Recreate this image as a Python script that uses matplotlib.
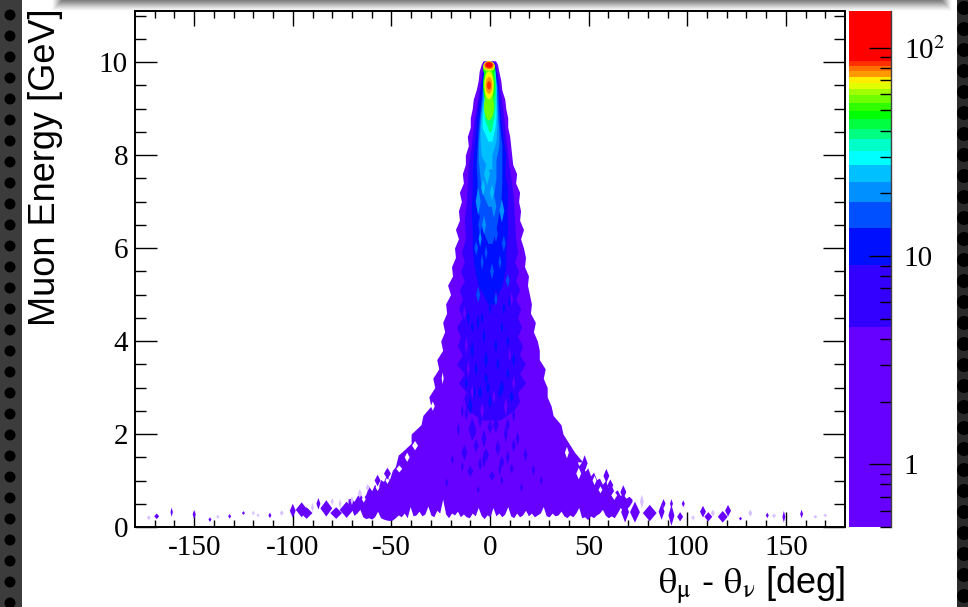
import matplotlib
matplotlib.use('Agg')
import matplotlib.pyplot as plt
from matplotlib.patches import Ellipse, Rectangle, Circle

plt.rcParams['axes.unicode_minus'] = False
plt.rcParams['mathtext.fontset'] = 'stix'

# colour scale: linear contour levels on a log axis
level_edges = [0.5, 4.56, 9.03, 13.6, 18.2, 22.7, 27.4, 32.0, 36.5, 40.8, 45.5,
               49.9, 54.4, 59.3, 63.5, 68.0, 72.7, 77.7, 82.0, 86.6, 150.0]
level_colors = ['#6600ff', '#3300ff', '#0010ff', '#0050ff', '#0090ff', '#00c0ff', '#00ffff',
                '#00ffc8', '#00ff80', '#00ff40', '#00ff00', '#30ff00', '#70ff00', '#a0ff00',
                '#e0ff00', '#ffee00', '#ff9900', '#ff7000', '#ff3000', '#ff0000']

# outer contour, energy rows above 1.4 GeV
body_e = [1.4, 1.6, 1.8, 2.0, 2.2, 2.4, 2.6, 2.8, 3.0, 3.2, 3.4, 3.6, 3.8, 4.0, 4.2, 4.4, 4.6, 4.8, 5.0, 5.2, 5.4, 5.6,
          5.8, 6.0, 6.2, 6.4, 6.6, 6.8, 7.0, 7.2, 7.4, 7.6, 7.8, 8.0, 8.2, 8.4, 8.6, 8.8, 9.0, 9.2, 9.4, 9.6, 9.8, 9.95, 10.03]
body_left = [-47, -45, -40, -40, -35, -34, -30, -31, -28, -29, -26, -27, -24, -25, -23, -24, -22, -22.5, -20, -21.5, -19, -19.5,
             -17.5, -18, -16, -17.5, -15.5, -16, -14.5, -15.5, -13.5, -14, -12.5, -12.5, -11, -11.5, -10, -10, -9, -8.5, -7, -6, -5.5, -4.5, -3.5]
body_right = [47, 43, 40, 37, 36, 32, 31, 29, 29, 27, 28, 25, 25, 24, 22, 23, 20.5, 21, 20, 19, 19.5, 17.5,
              18, 17, 15.5, 17, 15, 15.5, 14.5, 15, 13, 13.5, 11.5, 11, 10.5, 10, 9, 9, 8, 7.5, 6, 5.5, 4.5, 3.8, 2.8]

# lower part of the outer contour, theta columns every 1.5 deg
low_theta = [-72 + 1.5 * i for i in range(97)]
low_lower = [.5, .42, .25, .3, .38, .22, .18, .2, .17, .22, .34, .2, .17, .15, .14, .15, .2, .26, .22, .3, .2, .44, .24, .26, .34,
             .24, .28, .45, .26, .22, .36, .3, .6, .28, .2, .3, .26, .34, .22, .28, .22, .2, .3, .24, .42, .25, .18, .26, .22,
             .42, .24, .3, .22, .28, .44, .24, .2, .3, .22, .26, .36, .24, .3, .22, .26, .3, .44, .24, .22, .3, .24, .26, .34,
             .24, .2, .26, .22, .3, .42, .2, .22, .16, .24, .2, .26, .3, .38, .25, .2, .24, .2, .3, .42, .34, .38, .45, .55]
low_upper = [.6, .62, .55, .66, .72, .62, .7, .88, .78, .92, .8, 1.02, .98, 1.12, 1.02, 1.22, 1.3, 1.55] + [1.6] * 59 + \
            [1.5, 1.32, 1.4, 1.2, 1.28, 1.1, 1.18, 1.02, 1.05, .92, 1.0, .85, .9, .75, .8, .68, .7, .62, .66, .6]

# inner contours: energy rows with left and right edge
core_e = [2.3, 2.5, 2.7, 2.9, 3.1, 3.3, 3.5, 3.7, 3.9, 4.1, 4.3, 4.5, 4.7, 4.9, 5.1, 5.3, 5.5, 5.7, 5.9, 6.2, 6.6, 7.0, 7.4, 7.8, 8.2, 8.6, 9.0, 9.4, 9.8, 10.0]
core_left = [-4, -11, -14, -12, -16, -13, -17, -14, -16.5, -15, -17, -14, -16, -14, -15.5, -13, -15, -13, -14.5, -12.5, -13, -12, -11.5, -11, -9.5, -8.5, -7, -5.5, -4, -3]
core_right = [5, 12, 15, 14, 18, 15, 18, 15, 16.5, 14, 16, 14, 15.5, 13, 15, 13, 14.5, 12.5, 14, 13, 12.5, 12, 11, 9.5, 8.5, 7.5, 6.5, 5, 3.5, 2.5]
blue_e = [4.8, 5.2, 5.6, 6.0, 6.4, 6.8, 7.2, 7.6, 8.0, 8.4, 8.8, 9.2, 9.6, 9.9]
blue_left = [-1, -6, -8, -9, -9, -9.5, -9, -9, -8.5, -7.5, -7, -5.5, -4.5, -3]
blue_right = [2, 6, 8, 8, 9, 8.5, 9, 7.5, 8, 6.5, 5.5, 4.5, 4, 2.5]
azure_e = [6.1, 6.4, 7.0, 7.4, 7.8, 8.2, 8.6, 9.0, 9.4, 9.8]
azure_left = [-1, -4, -7, -6.5, -7, -6.5, -6, -5, -4, -3]
azure_right = [1, 3, 5.5, 6, 6, 6, 5, 4.5, 4, 2.5]
sky_e = [6.9, 7.2, 7.5, 7.9, 8.2, 8.5, 8.8, 9.2, 9.6, 9.9]
sky_left = [-1, -4, -5, -6, -6, -5.5, -5, -4, -3.5, -3]
sky_right = [1, 2, 3, 3, 4.5, 4.5, 4, 3.5, 3, 2.2]
light_e = [7.7, 8.0, 8.3, 8.6, 8.9, 9.2, 9.5, 9.85]
light_left = [-1, -4.5, -5, -5, -4.5, -3.5, -3, -2.8]
light_right = [1, 1, 3, 3.5, 3.5, 3.2, 3, 2.2]
cyan_e = [8.3, 8.6, 8.8, 9.1, 9.5, 9.9]
cyan_left = [-1, -4, -4, -3.2, -3, -2.8]
cyan_right = [1, 2.5, 3, 3, 3, 2.2]
mint_e = [8.5, 8.8, 9.0, 9.3, 9.6, 9.95]
mint_left = [-0.5, -3, -3, -2.8, -2.8, -2.8]
mint_right = [0.5, 2, 2.5, 2.8, 2.8, 2.2]

# local patches of counts: centre, full width, full height, level
patch_theta = [-10, -5, 1, 6, 11, -13, -7, -2, 4, 9, -9, -3, 3, 8, -16, 14, -19, 22, 26, 16, -22, 18, 12, -14, 6, -6,
               -12, -5, 3, 9, -8, 0, 12, -14, -3, 5,
               -10, -5, 0, 6, 11, -12, -7, -2, 4, 9, -9, -3, 3, 8, -11, -6, 0, 6, 12, -8, -2, 5, 10,
               -4, 2, 7, -9, 0, 4, 9, -1, -6, 10,
               -6, 3, 9, -4, 1, -7, 7, -5, 3, -2, 5,
               -6, -3, 6, 2, -5,
               -1.5, -3.5, 1,
               -0.5, -0.5, -0.5, -0.5, -0.5, -0.5, -0.5, -0.5, -0.5, -0.5, -0.5, -0.5]
patch_e = [1.2, 1.35, 1.1, 1.4, 1.25, 1.6, 1.75, 1.55, 1.7, 1.5, 2.1, 1.9, 2.2, 2.0, 2.1, 1.9, 1.45, 1.22, 1.0, .85, .95, 1.55, 1.75, 1.3, 1.0, .8,
           2.45, 2.3, 2.35, 2.2, 2.05, 2.15, 2.4, 2.5, 1.45, 1.25,
           2.6, 2.9, 2.7, 3.0, 2.8, 3.1, 3.4, 3.2, 3.5, 3.3, 3.8, 4.1, 3.9, 4.2, 4.5, 4.4, 4.7, 4.3, 3.6, 2.9, 3.6, 2.9, 3.7,
           4.5, 4.9, 4.7, 4.3, 5.1, 5.4, 4.0, 3.0, 5.0, 4.85,
           5.0, 4.9, 5.3, 5.7, 5.5, 6.0, 6.1, 6.5, 6.3, 5.9, 5.7,
           7.0, 6.5, 6.8, 6.9, 6.2,
           7.6, 7.3, 7.2,
           9.05, 9.5, 9.5, 9.5, 9.5, 9.5, 9.5, 9.85, 9.9, 9.92, 9.93, 9.94]
patch_w = [3, 2, 3, 2.5, 2, 3, 2.5, 3, 2.5, 2, 4, 2.5, 3, 2, 1.5, 2, 1.5, 1.5, 1.5, 1.5, 1.5, 2, 2, 1.5, 1.5, 1.5,
           2, 2, 2.5, 2, 2, 2.5, 1.5, 1.5, 2, 1.5,
           2, 2, 2, 2, 2, 1.5, 1.5, 2, 1.5, 1.5, 1.5, 1.5, 1.5, 1.5, 1.5, 1.5, 1.5, 1.5, 1.5, 1.5, 2, 1.5, 1.5,
           1.5, 1.5, 1.5, 1.5, 2, 1.5, 1.5, 2, 1.5, 1.5,
           2, 1.5, 2, 1.5, 2, 2, 2, 2, 2, 1.5, 1.5,
           2.5, 2, 2.5, 2.5, 1.5,
           3, 2, 2,
           5, 6, 5.2, 4.6, 4.2, 3.4, 2, 6, 6, 5.6, 4.8, 3.6]
patch_h = [.25, .3, .2, .25, .2, .35, .3, .3, .35, .3, .5, .4, .35, .4, .3, .3, .2, .25, .2, .2, .2, .3, .3, .2, .2, .15,
           .35, .35, .3, .3, .3, .3, .3, .3, .35, .3,
           .4, .3, .3, .35, .25, .25, .3, .25, .3, .25, .4, .35, .3, .25, .3, .35, .3, .25, .3, .25, .4, .3, .3,
           .25, .3, .25, .25, .3, .3, .25, .3, .3, .25,
           .35, .3, .3, .35, .35, .3, .35, .4, .35, .3, .3,
           .6, .4, .5, .5, .35,
           .5, .35, .35,
           .6, .85, .72, .6, .5, .36, .18, .3, .24, .2, .16, .12]
patch_level = [1] * 36 + [2] * 33 + [3] * 11 + [4] * 5 + [5] * 3 + \
              [12, 10, 12, 14, 15, 16, 18, 10, 12, 15, 17, 19]

# low pockets inside the core and the blue contour
hole_theta = [-13, -9, -4, 2, 8, 12, -11, -6, 5, 10, -12, -8, 0, 8, -13, -3, 6, 11, -10, 3, 9, -6, -12, 10, -4, 4]
hole_e = [2.6, 2.9, 2.5, 2.8, 2.6, 3.1, 3.4, 3.15, 3.3, 3.7, 3.9, 4.05, 3.6, 4.15, 4.6, 4.35, 4.55, 4.9, 5.2, 5.0, 5.5, 5.6, 5.7, 6.0, 6.4, 6.6]
hole_w = [1.5, 1.5, 2, 1.5, 2, 1.5, 1.5, 1.5, 1.5, 1.5, 1.5, 1.5, 1.5, 1.5, 1.5, 1.5, 1.5, 1.5, 1.5, 1.5, 1.5, 1.5, 1.5, 1.5, 1.5, 1.5]
hole_h = [.35, .3, .35, .3, .4, .3, .35, .25, .3, .3, .4, .3, .25, .35, .3, .25, .3, .3, .3, .25, .3, .3, .3, .3, .3, .3]
hole_level = [0, 0, 0, 0, 0, 0, 0, 1, 1, 0, 0, 1, 1, 1, 0, 1, 1, 0, 1, 1, 1, 2, 1, 1, 2, 2]

# isolated cells in the tails and along the flanks
tail_theta = [-169, -161.4, -150, -142, -132, -125, -117.6, -111.6, -105.6, -100, -95.5, -93, -87, -83, -78, -72.7, -80, -70, -57, -52, -62,
              68.5, 73.5, 81, 87, 92, 96.4, 98, 88, 92, 108, 110.7, 118, 120.7, 127, 132, 140.6, 149, 158, 170, 48, 59, 61, 67.6,
              -90, -76, -173, -138, -120, -66, 77, 103, 113, 144, 165]
tail_e = [.23, .32, .27, .16, .23, .3, .25, .25, .3, .35, .37, .3, .5, .4, .3, .37, .55, .57, 1.0, 1.15, .85,
          .32, .32, .3, .33, .25, .22, .5, .5, .5, .33, .22, .22, .35, .18, .3, .25, .22, .28, .25, 1.37, 1.1, .9, .75,
          .42, .5, .2, .22, .3, .72, .55, .2, .3, .24, .22]
tail_w = [2.5, 1.2, 1.5, 1.5, 1.5, 1.5, 1.5, 1.5, 2, 3, 6, 6, 2, 6, 6, 7, 1.5, 1.5, 3, 3.5, 2,
          4, 5, 7, 3, 3, 3, 1.5, 2, 1.5, 3, 4, 5, 3, 1.5, 2, 1.5, 1.5, 1.5, 2, 3, 3, 3, 3,
          1.5, 1.5, 2, 1.5, 1.5, 2, 2, 2, 2, 2, 2]
tail_h = [.12, .2, .2, .1, .1, .08, .08, .12, .12, .3, .32, .25, .25, .35, .25, .35, .15, .2, .25, .25, .15,
          .45, .45, .35, .35, .45, .2, .15, .2, .2, .25, .2, .25, .25, .08, .15, .12, .25, .18, .08, .35, .3, .25, .3,
          .2, .2, .1, .1, .1, .2, .3, .1, .15, .1, .08]
tail_pale = [0, 0, 0, 0, 0, 0, 1, 0, 1, 0, 0, 0, 0, 0, 0, 0, 1, 1, 0, 0, 1,
             0, 0, 0, 0, 0, 0, 0, 0, 0, 0, 0, 0, 0, 0, 1, 0, 0, 0, 1, 0, 0, 0, 0,
             1, 1, 1, 1, 1, 1, 1, 1, 1, 1, 1]

# white gaps cut into the flanks
gap_theta = [45, 53, 63, 60, 39, -38, -46, -57, -64, -67, -24, -29, 27, 34, -42, -52, 49, 56]
gap_e = [1.15, 1.0, .68, .95, 1.6, 1.75, 1.25, .85, .6, .85, 3.2, 2.6, 4.4, 2.7, 1.5, 1.0, 1.3, .8]
gap_w = [2.5, 2, 3, 1.5, 2, 3, 3, 2, 2, 1.5, 1, 2, 1, 1.5, 2.5, 2, 2, 2]
gap_h = [.25, .2, .2, .15, .25, .2, .15, .15, .15, .1, .25, .2, .25, .2, .2, .15, .2, .15]

xticks_major = [-150, -100, -50, 0, 50, 100, 150]
yticks_major = [0, 2, 4, 6, 8, 10]
bar_major = [1, 10, 100]
bar_minor = [.5, .6, .7, .8, .9, 2, 3, 4, 5, 6, 7, 8, 9, 20, 30, 40, 50, 60, 70, 80, 90]

W, H = 968, 607


def px_axes(fig, left, top, right, bottom):
    return fig.add_axes([left / W, 1 - bottom / H, (right - left) / W, (bottom - top) / H])


def cell(ax, t, e, w, h, color, z):
    # one contour cell is a spiky diamond, not a round dot
    ax.fill([t - w / 2, t, t + w / 2, t], [e, e + h / 2, e, e - h / 2], color=color, lw=0, zorder=z)


fig = plt.figure(figsize=(W / 100, H / 100), dpi=100, facecolor='white')

# slide decoration behind the plot
bg = fig.add_axes([0, 0, 1, 1], zorder=-1)
bg.set_xlim(0, W)
bg.set_ylim(H, 0)
bg.axis('off')
bg.add_patch(Rectangle((0, 0), 22, H, color='#3c3c3c', lw=0))
bg.add_patch(Rectangle((957, 0), 11, H, color='#2a2a2a', lw=0))
for k in range(-1, 30):
    bg.add_patch(Circle((10, 15 + 21 * k), 5.5, color='black', lw=0))
    bg.add_patch(Circle((964, 8 + 21 * k), 7, color='black', lw=0))
shades = ['#808080', '#8c8c8c', '#989898', '#a6a6a6', '#b4b4b4', '#c2c2c2', '#cfcfcf', '#dcdcdc', '#e8e8e8', '#f2f2f2', '#fafafa']
for i, shade in reversed(list(enumerate(shades))):
    bg.add_patch(Rectangle((62 - i, 0), 880 + 2 * i, i + 1, color=shade, lw=0))

ax = px_axes(fig, 135, 11, 845, 527)
ax.set_xlim(-180, 180)
ax.set_ylim(0, 11.1)

ax.fill_between(low_theta, low_lower, low_upper, color=level_colors[0], lw=0, zorder=2)
ax.fill_betweenx(body_e, body_left, body_right, color=level_colors[0], lw=0, zorder=2)
for t, e, w, h in zip(gap_theta, gap_e, gap_w, gap_h):
    cell(ax, t, e, w, h, 'white', 2.5)
for t, e, w, h, p in zip(tail_theta, tail_e, tail_w, tail_h, tail_pale):
    cell(ax, t, e, w, h, '#d9c2ff' if p else level_colors[0], 3)

contours = [(1, core_e, core_left, core_right), (2, blue_e, blue_left, blue_right),
            (3, azure_e, azure_left, azure_right), (4, sky_e, sky_left, sky_right),
            (5, light_e, light_left, light_right), (6, cyan_e, cyan_left, cyan_right),
            (8, mint_e, mint_left, mint_right)]
for level, e, left, right in contours:
    ax.fill_betweenx(e, left, right, color=level_colors[level], lw=0, zorder=4 + level)
for t, e, w, h, level in zip(patch_theta, patch_e, patch_w, patch_h, patch_level):
    if level <= 6:
        cell(ax, t, e, w, h, level_colors[level], 4 + level + 0.5)
    else:
        ax.add_patch(Ellipse((t, e), w, h, color=level_colors[level], lw=0, zorder=4 + level + 0.5))
for t, e, w, h, level in zip(hole_theta, hole_e, hole_w, hole_h, hole_level):
    cell(ax, t, e, w, h, level_colors[level], 6.8)

ax.set_xticks(xticks_major)
ax.set_xticks(range(-170, 180, 10), minor=True)
ax.set_yticks(yticks_major)
ax.set_yticks([i * 0.5 for i in range(0, 23)], minor=True)
ax.tick_params(which='major', axis='x', direction='in', top=True, length=10.8, width=1, pad=6, labelsize=21)
ax.tick_params(which='minor', axis='x', direction='in', top=True, length=5, width=1)
ax.tick_params(which='major', axis='y', direction='in', right=True, length=15.8, width=1, pad=5, labelsize=21)
ax.tick_params(which='minor', axis='y', direction='in', right=True, length=8, width=1)
for lab in ax.get_xticklabels() + ax.get_yticklabels():
    lab.set_family('Liberation Serif')
for s in ax.spines.values():
    s.set_linewidth(1.4)
    s.set_zorder(30)

fig.text(46 / W, 1 - 326 / H, 'Muon Energy [GeV]', rotation=90, ha='center', va='bottom', fontsize=26, family='Liberation Sans')
fig.text(845 / W, 1 - 594 / H, r'$\mathrm{\theta}_{\mathrm{\mu}}$ - $\mathrm{\theta}_{\mathrm{\nu}}$ [deg]',
         ha='right', va='baseline', fontsize=26, family='Liberation Sans')

# colour bar
cax = px_axes(fig, 849, 11, 891, 527)
cax.set_yscale('log')
cax.set_ylim(level_edges[0], level_edges[-1])
cax.set_xlim(0, 1)
for low, high, col in zip(level_edges[:-1], level_edges[1:], level_colors):
    cax.bar(0.5, high - low, width=1, bottom=low, color=col, lw=0)
for name in ['top', 'bottom', 'left']:
    cax.spines[name].set_visible(False)
cax.spines['right'].set_linewidth(1)
cax.spines['right'].set_color('#404040')
cax.set_xticks([])
cax.yaxis.tick_right()
cax.set_yticks(bar_major)
cax.set_yticklabels(['1', '10', r'10$^{2}$'], family='Liberation Serif', fontsize=21)
cax.set_yticks(bar_minor, minor=True)
cax.set_yticklabels([], minor=True)
cax.tick_params(which='major', axis='y', direction='in', length=15.8, width=1, pad=9)
cax.tick_params(which='minor', axis='y', direction='in', length=8, width=1)

fig.savefig('out.png', dpi=100)
